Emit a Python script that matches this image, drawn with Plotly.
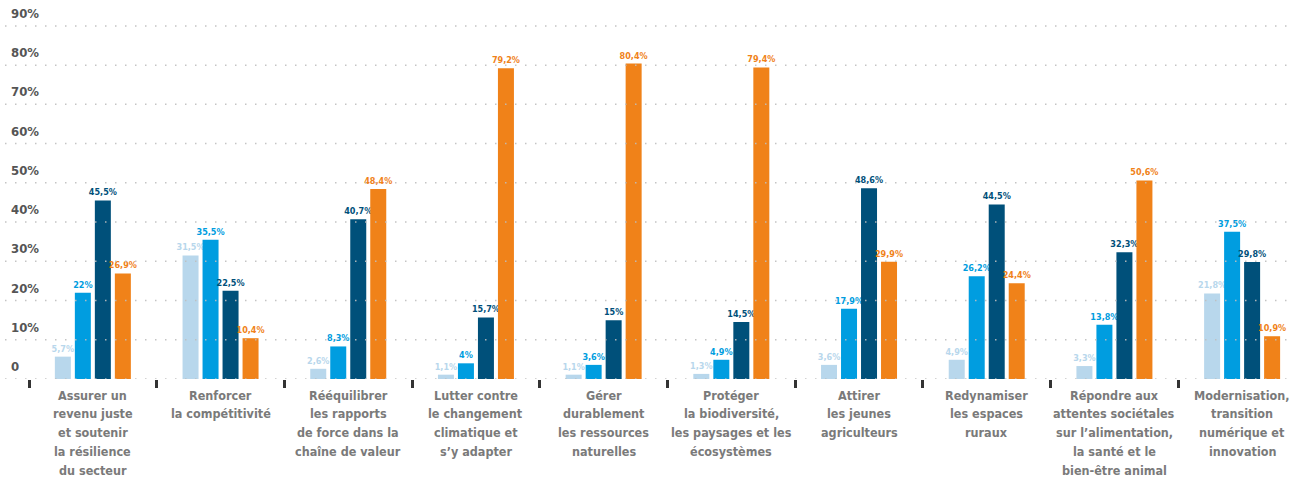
import plotly.graph_objects as go

categories = [
    "Assurer un<br>revenu juste<br>et soutenir<br>la résilience<br>du secteur",
    "Renforcer<br>la compétitivité",
    "Rééquilibrer<br>les rapports<br>de force dans la<br>chaîne de valeur",
    "Lutter contre<br>le changement<br>climatique et<br>s’y adapter",
    "Gérer<br>durablement<br>les ressources<br>naturelles",
    "Protéger<br>la biodiversité,<br>les paysages et les<br>écosystèmes",
    "Attirer<br>les jeunes<br>agriculteurs",
    "Redynamiser<br>les espaces<br>ruraux",
    "Répondre aux<br>attentes sociétales<br>sur l’alimentation,<br>la santé et le<br>bien-être animal",
    "Modernisation,<br>transition<br>numérique et<br>innovation",
]

series_a = [5.7, 31.5, 2.6, 1.1, 1.1, 1.3, 3.6, 4.9, 3.3, 21.8]
series_b = [22, 35.5, 8.3, 4, 3.6, 4.9, 17.9, 26.2, 13.8, 37.5]
series_c = [45.5, 22.5, 40.7, 15.7, 15, 14.5, 48.6, 44.5, 32.3, 29.8]
series_d = [26.9, 10.4, 48.4, 79.2, 80.4, 79.4, 29.9, 24.4, 50.6, 10.9]

y_ticks = [0, 10, 20, 30, 40, 50, 60, 70, 80, 90]
y_tick_labels = ["0", "10%", "20%", "30%", "40%", "50%", "60%", "70%", "80%", "90%"]

colors = ["#b8d7ec", "#009de0", "#00507a", "#f08219"]
FONT = "Liberation Sans Narrow, DejaVu Sans Condensed, Roboto, sans-serif"


def fmt(v):
    s = ("%g" % v).replace(".", ",")
    return s + "%"


fig = go.Figure()
for vals, col in zip([series_a, series_b, series_c, series_d], colors):
    fig.add_trace(go.Bar(
        x=categories, y=vals, marker=dict(color=col, line=dict(width=0)),
        text=[fmt(v) for v in vals], textposition="outside",
        textfont=dict(family=FONT, size=9, color=col, weight="bold"),
        constraintext="none", cliponaxis=False, showlegend=False,
        hoverinfo="skip",
    ))

for v, lab in zip(y_ticks, y_tick_labels):
    fig.add_shape(type="line", xref="paper", x0=0, x1=1, yref="y", y0=v, y1=v,
                  line=dict(color="rgba(190,190,190,0.9)", width=1.5, dash="1.5px,8.5px"),
                  layer="above")
    fig.add_annotation(xref="paper", x=0, xshift=4, yref="y", y=v, yshift=3,
                       text=lab, showarrow=False, xanchor="left", yanchor="bottom",
                       font=dict(family=FONT, size=13, color="#555555", weight="bold"))

# category labels, one annotation per line for the original line spacing
for i, cat in enumerate(categories):
    for j, line in enumerate(cat.split("<br>")):
        fig.add_annotation(xref="x", x=i, yref="paper", y=0, yshift=-16 - 18.8 * j,
                           text=line, showarrow=False, xanchor="center", yanchor="middle",
                           font=dict(family=FONT, size=12.5, color="#7a7a7a", weight="bold"))

fig.update_layout(
    width=1290, height=479,
    margin=dict(l=5, r=0, t=0, b=100),
    paper_bgcolor="white", plot_bgcolor="white",
    barmode="group", bargap=0.3735, bargroupgap=0.2,
    xaxis=dict(
        type="category", range=[-0.688, 9.375],
        tickson="boundaries", ticks="outside", ticklen=8, tickwidth=3,
        tickcolor="#333333", showgrid=False, showline=False, zeroline=False,
        showticklabels=False,
    ),
    yaxis=dict(range=[0, 96.6], showgrid=False, zeroline=False,
               showticklabels=False, showline=False),
)

fig.write_html("out.html")
